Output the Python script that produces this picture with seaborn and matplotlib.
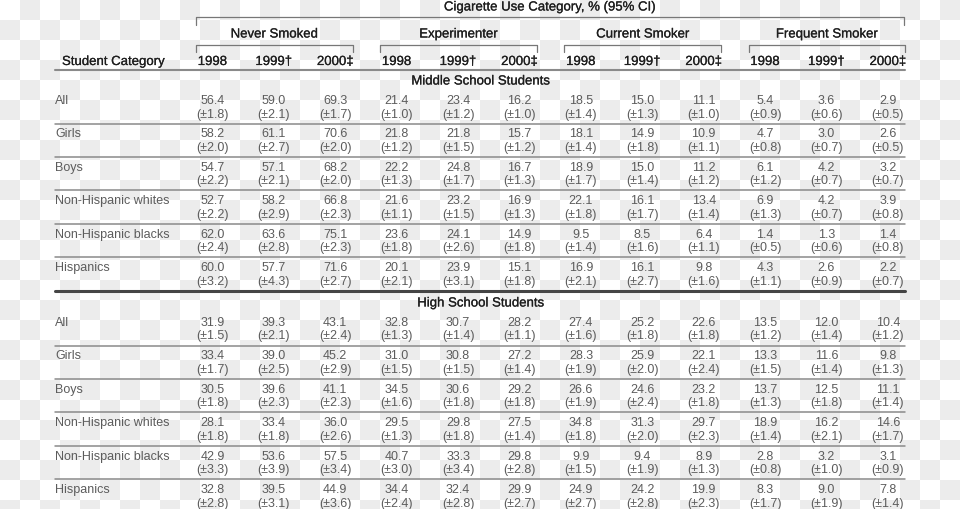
import numpy as np
import matplotlib
matplotlib.use('Agg')
import matplotlib.pyplot as plt
import matplotlib.patheffects as pe
import seaborn as sns

title = 'Cigarette Use Category, % (95% CI)'
groups = ['Never Smoked', 'Experimenter', 'Current Smoker', 'Frequent Smoker']
years = ['1998', '1999\u2020', '2000\u2021']
student_categories = ['All', 'Girls', 'Boys', 'Non-Hispanic whites',
                      'Non-Hispanic blacks', 'Hispanics']
sections = ['Middle School Students', 'High School Students']

middle_pct = [
    [56.4, 59.0, 69.3, 21.4, 23.4, 16.2, 18.5, 15.0, 11.1, 5.4, 3.6, 2.9],
    [58.2, 61.1, 70.6, 21.8, 21.8, 15.7, 18.1, 14.9, 10.9, 4.7, 3.0, 2.6],
    [54.7, 57.1, 68.2, 22.2, 24.8, 16.7, 18.9, 15.0, 11.2, 6.1, 4.2, 3.2],
    [52.7, 58.2, 66.8, 21.6, 23.2, 16.9, 22.1, 16.1, 13.4, 6.9, 4.2, 3.9],
    [62.0, 63.6, 75.1, 23.6, 24.1, 14.9, 9.5, 8.5, 6.4, 1.4, 1.3, 1.4],
    [60.0, 57.7, 71.6, 20.1, 23.9, 15.1, 16.9, 16.1, 9.8, 4.3, 2.6, 2.2],
]
middle_ci = [
    [1.8, 2.1, 1.7, 1.0, 1.2, 1.0, 1.4, 1.3, 1.0, 0.9, 0.6, 0.5],
    [2.0, 2.7, 2.0, 1.2, 1.5, 1.2, 1.4, 1.8, 1.1, 0.8, 0.7, 0.5],
    [2.2, 2.1, 2.0, 1.3, 1.7, 1.3, 1.7, 1.4, 1.2, 1.2, 0.7, 0.7],
    [2.2, 2.9, 2.3, 1.1, 1.5, 1.3, 1.8, 1.7, 1.4, 1.3, 0.7, 0.8],
    [2.4, 2.8, 2.3, 1.8, 2.6, 1.8, 1.4, 1.6, 1.1, 0.5, 0.6, 0.8],
    [3.2, 4.3, 2.7, 2.1, 3.1, 1.8, 2.1, 2.7, 1.6, 1.1, 0.9, 0.7],
]
high_pct = [
    [31.9, 39.3, 43.1, 32.8, 30.7, 28.2, 27.4, 25.2, 22.6, 13.5, 12.0, 10.4],
    [33.4, 39.0, 45.2, 31.0, 30.8, 27.2, 28.3, 25.9, 22.1, 13.3, 11.6, 9.8],
    [30.5, 39.6, 41.1, 34.5, 30.6, 29.2, 26.6, 24.6, 23.2, 13.7, 12.5, 11.1],
    [28.1, 33.4, 36.0, 29.5, 29.8, 27.5, 34.8, 31.3, 29.7, 18.9, 16.2, 14.6],
    [42.9, 53.6, 57.5, 40.7, 33.3, 29.8, 9.9, 9.4, 8.9, 2.8, 3.2, 3.1],
    [32.8, 39.5, 44.9, 34.4, 32.4, 29.9, 24.9, 24.2, 19.9, 8.3, 9.0, 7.8],
]
high_ci = [
    [1.5, 2.1, 2.4, 1.3, 1.4, 1.1, 1.6, 1.8, 1.8, 1.2, 1.4, 1.2],
    [1.7, 2.5, 2.9, 1.5, 1.5, 1.4, 1.9, 2.0, 2.4, 1.5, 1.4, 1.3],
    [1.8, 2.3, 2.3, 1.6, 1.8, 1.8, 1.9, 2.4, 1.8, 1.3, 1.8, 1.4],
    [1.8, 1.8, 2.6, 1.3, 1.8, 1.4, 1.8, 2.0, 2.3, 1.4, 2.1, 1.7],
    [3.3, 3.9, 3.4, 3.0, 3.4, 2.8, 1.5, 1.9, 1.3, 0.8, 1.0, 0.9],
    [2.8, 3.1, 3.6, 2.4, 2.8, 2.7, 2.7, 2.8, 2.3, 1.7, 1.9, 1.4],
]

# ---- layout (pixel coordinates, origin top-left; text y = baseline) ----
W, H = 960, 509
LEFT, RIGHT = 55, 905
COL0, COL_STEP = 212.5, 61.4
ROW_PITCH = 33.4
SECTION_TOP = [104, 326]
CI_OFFSET = 13.5
VAL_COLOR = '#5c5c5c'
HEAD_COLOR = '#1e1e1e'
LINE_COLOR = '#8a8a8a'
HEAD_FX = [pe.withStroke(linewidth=0.15, foreground=HEAD_COLOR)]

sns.set_theme(style='white')
plt.rcParams['font.family'] = ['Liberation Sans', 'DejaVu Sans']

fig = plt.figure(figsize=(W / 100, H / 100), dpi=100)

# transparency-style checkerboard behind the table
bg = fig.add_axes([0, 0, 1, 1])
n_rows, n_cols = int(np.ceil(H / 20)), W // 20
checker = np.indices((n_rows, n_cols)).sum(axis=0) % 2
sns.heatmap(checker, ax=bg, cmap=['#ffffff', '#ececec'], cbar=False,
            xticklabels=False, yticklabels=False)
bg.set_xlim(0, n_cols)
bg.set_ylim(H / 20, 0)
bg.axis('off')

ax = fig.add_axes([0, 0, 1, 1])
ax.set_xlim(0, W)
ax.set_ylim(H, 0)
ax.axis('off')
ax.patch.set_alpha(0)


def header(x, y, s, ha='center'):
    ax.text(x, y, s, ha=ha, va='baseline', fontsize=9.5, color=HEAD_COLOR,
            path_effects=HEAD_FX)


col_x = COL0 + COL_STEP * np.arange(len(groups) * len(years))

# top spanning bracket + title
header(550, 10.5, title)
ax.plot([col_x[0] - 16.5, col_x[0] - 16.5, col_x[-1] + 16.5, col_x[-1] + 16.5],
        [25, 17, 17, 25], color='#777777', lw=0.9)

# group headers and their brackets
for g, name in enumerate(groups):
    x0 = col_x[g * 3] - 16.5
    x1 = col_x[g * 3 + 2] + 17.5
    header((x0 + x1) / 2, 37.5, name)
    ax.plot([x0, x0, x1, x1], [52, 44.5, 44.5, 52], color='#777777', lw=0.9)
    for k, yr in enumerate(years):
        header(col_x[g * 3 + k], 65, yr)

header(62, 65, 'Student Category', ha='left')
ax.plot([LEFT, RIGHT], [70, 70], color=LINE_COLOR, lw=1.5)

# body
for s, (label, pct, ci) in enumerate(zip(sections, [middle_pct, high_pct],
                                         [middle_ci, high_ci])):
    top = SECTION_TOP[s]
    header(481, top - 19.5, label)
    for r, cat in enumerate(student_categories):
        y = top + r * ROW_PITCH
        ax.text(LEFT, y, cat, ha='left', va='baseline', fontsize=9, color=VAL_COLOR)
        for c in range(len(col_x)):
            ax.text(col_x[c], y, f'{pct[r][c]:.1f}', ha='center', va='baseline',
                    fontsize=9, color=VAL_COLOR)
            ax.text(col_x[c], y + CI_OFFSET, f'(\u00b1{ci[r][c]:.1f})', ha='center',
                    va='baseline', fontsize=9, color=VAL_COLOR)
        if r < len(student_categories) - 1:
            ax.plot([LEFT, RIGHT], [y + 19.5, y + 19.5], color=LINE_COLOR, lw=1.1)

ax.plot([LEFT, RIGHT], [291.3, 291.3], color='#454545', lw=2.2)

fig.savefig('out.png', dpi=100)
